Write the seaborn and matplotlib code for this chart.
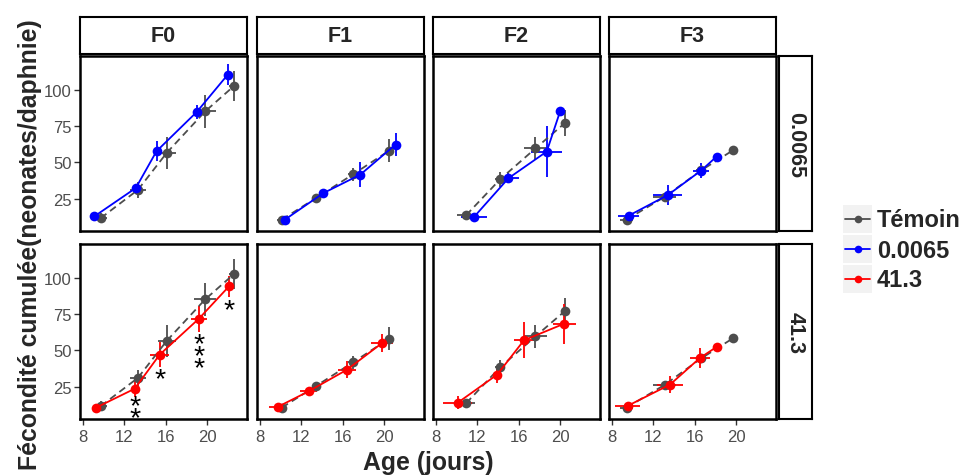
import numpy as np
import pandas as pd
import seaborn as sns
from matplotlib import pyplot as plt
from matplotlib.lines import Line2D
from matplotlib.patches import Rectangle

# Fecondite cumulee par generation (F0..F3), moyenne + erreurs
generations = ['F0', 'F1', 'F2', 'F3']
concentrations = ['0.0065', '41.3']
groups = ['Témoin', '0.0065', '41.3']

age_temoin = [[9.7, 13.3, 16.1, 19.8, 22.6], [10.1, 13.4, 17.0, 20.5],
              [10.9, 14.2, 17.6, 20.5], [9.4, 13.1, 16.6, 19.7]]
fec_temoin = [[11.8, 31.2, 56.7, 85.0, 102.5], [10.8, 25.6, 41.9, 58.2],
              [13.8, 38.5, 59.6, 77.3], [10.8, 26.5, 44.5, 58.4]]
xerr_temoin = [[0.6, 0.8, 0.9, 1.1, 0.5], [0.5, 0.4, 0.5, 0.4],
               [0.9, 0.5, 1.1, 0.4], [0.6, 1.1, 0.5, 0.4]]
yerr_temoin = [[3.5, 5.7, 11, 11.5, 10.5], [1.5, 2.5, 4.5, 7.6],
               [1.5, 5, 8, 9], [2, 2.5, 3, 2.5]]

age_low = [[9.1, 13.1, 15.1, 19.0, 22.0], [10.4, 14.1, 17.7, 21.1],
           [11.7, 15.0, 18.7, 20.0], [9.6, 13.4, 16.6, 18.1]]
fec_low = [[13.1, 32.5, 57.7, 84.7, 110.3], [10.8, 28.9, 41.7, 62.3],
           [12.9, 39.2, 57.5, 85.2], [13.5, 27.7, 44.4, 54.0]]
xerr_low = [[0.2, 0.3, 0.3, 0.3, 0.2], [0.3, 0.3, 0.3, 0.3],
            [1.25, 1.0, 1.5, 0.2], [1.0, 1.4, 0.8, 0.2]]
yerr_low = [[1.5, 2.5, 7, 5, 7.5], [1.5, 2, 8.6, 8],
            [1, 3.5, 17.5, 1.5], [2, 7, 5, 1]]

age_high = [[9.2, 13.0, 15.4, 19.2, 22.1], [9.7, 12.7, 16.4, 19.8],
            [10.1, 13.9, 16.5, 20.4], [9.5, 13.6, 16.5, 18.1]]
fec_high = [[10.6, 23.8, 47.1, 71.8, 93.9], [11.3, 22.0, 36.8, 55.1],
            [14.2, 33.4, 57.0, 68.4], [12.0, 26.6, 44.9, 52.4]]
xerr_high = [[0.3, 0.3, 0.9, 0.8, 0.3], [0.85, 0.8, 0.9, 1.06],
             [1.4, 0.3, 1.0, 1.1], [1.2, 1.3, 1.0, 0.2]]
yerr_high = [[1.5, 5.7, 8.6, 9, 7], [1.5, 3, 6, 6],
             [4.5, 6, 12.5, 13.7], [1, 6, 7, 1]]

# significativite F0 / 41.3 (y = etoile la plus basse)
star_x = [13.0, 15.4, 19.2, 22.1]
star_y = [10.0, 36.8, 44.2, 84.3]
star_txt = ['*\n*', '*', '*\n*\n*', '*']

x_ticks = [8, 12, 16, 20]
y_ticks = [25, 50, 75, 100]

colors = {'Témoin': '#4D4D4D', '0.0065': '#0000FF', '41.3': '#FF0000'}

rows = []
for g, gen in enumerate(generations):
    for c, conc in enumerate(concentrations):
        series = [('Témoin', age_temoin, fec_temoin, xerr_temoin, yerr_temoin)]
        if conc == '0.0065':
            series.append(('0.0065', age_low, fec_low, xerr_low, yerr_low))
        else:
            series.append(('41.3', age_high, fec_high, xerr_high, yerr_high))
        for name, a, f, xe, ye in series:
            for i in range(len(a[g])):
                rows.append({'gen': gen, 'conc': conc, 'groupe': name,
                             'age': a[g][i], 'fec': f[g][i],
                             'xerr': xe[g][i], 'yerr': ye[g][i]})
df = pd.DataFrame(rows)

sns.set_style('white')
plt.rcParams['font.family'] = ['Liberation Sans', 'DejaVu Sans']

W, H = 978, 477
fig = plt.figure(figsize=(W / 100, H / 100), dpi=100)

col_left = [80, 257, 433, 609]
col_w = 167
row_top = [57, 245]
row_h = 175


def fig_rect(x0, y0, w, h):
    return [x0 / W, 1 - (y0 + h) / H, w / W, h / H]


for c, conc in enumerate(concentrations):
    for g, gen in enumerate(generations):
        ax = fig.add_axes(fig_rect(col_left[g], row_top[c], col_w, row_h))
        sub = df[(df.gen == gen) & (df.conc == conc)]
        for name in ['Témoin', conc]:
            d = sub[sub.groupe == name]
            ax.errorbar(d.age, d.fec, xerr=d.xerr, yerr=d.yerr, fmt='none',
                        ecolor=colors[name], elinewidth=1.3, capsize=0, zorder=2)
        sns.lineplot(data=sub, x='age', y='fec', hue='groupe', style='groupe',
                     palette=colors, hue_order=['Témoin', conc],
                     dashes={'Témoin': (4, 2.5), conc: ''},
                     markers={'Témoin': 'o', conc: 'o'}, markersize=7,
                     markeredgewidth=0, linewidth=1.3, estimator=None,
                     sort=False, legend=False, ax=ax, zorder=3)
        if gen == 'F0' and conc == '41.3':
            for sx, sy, st in zip(star_x, star_y, star_txt):
                ax.annotate(st, (sx, sy), xytext=(0, -11.8),
                            textcoords='offset points', ha='center',
                            va='baseline', fontsize=20.5, linespacing=0.3,
                            color='black', zorder=4)
        ax.set_xlim(7.7, 23.85)
        ax.set_ylim(3, 123)
        ax.set_xticks(x_ticks)
        ax.set_yticks(y_ticks)
        ax.set_xlabel('')
        ax.set_ylabel('')
        ax.tick_params(axis='both', which='both', length=4, width=1,
                       color='#333333', labelcolor='#4D4D4D', labelsize=12,
                       direction='out', pad=2)
        ax.tick_params(axis='x', pad=3.5)
        ax.tick_params(bottom=(c == 1), left=(g == 0),
                       labelbottom=(c == 1), labelleft=(g == 0))
        for sp in ax.spines.values():
            sp.set_color('black')
            sp.set_linewidth(1.8)
        ax.grid(False)

        # bandeaux du haut
        if c == 0:
            sax = fig.add_axes(fig_rect(col_left[g], 18, col_w, 37))
            sax.set_xticks([])
            sax.set_yticks([])
            for sp in sax.spines.values():
                sp.set_linewidth(1.5)
                sp.set_color('black')
            sax.text(0.5, 0.5, gen, ha='center', va='center',
                     fontsize=15.5, fontweight='bold', transform=sax.transAxes)
    rax = fig.add_axes(fig_rect(779, row_top[c], 33, row_h))
    rax.set_xticks([])
    rax.set_yticks([])
    for sp in rax.spines.values():
        sp.set_linewidth(1.5)
        sp.set_color('black')
    rax.text(0.5, 0.5, conc, ha='center', va='center', rotation=-90,
             fontsize=15.5, fontweight='bold', transform=rax.transAxes)

fig.text(428 / W, 1 - 463 / H, 'Age (jours)', ha='center', va='center',
         fontsize=17.8, fontweight='bold')
fig.text(30 / W, 1 - 245 / H, 'Fécondité cumulée(neonates/daphnie)',
         ha='center', va='center', rotation=90, fontsize=17.8,
         fontweight='bold')

# legende
lax = fig.add_axes([0, 0, 1, 1], facecolor='none')
lax.set_xlim(0, W)
lax.set_ylim(H, 0)
lax.axis('off')
for i, name in enumerate(groups):
    yc = 220 + i * 30
    lax.add_patch(Rectangle((843, yc - 14), 29, 28, facecolor='#F2F2F2',
                            edgecolor='none'))
    lax.add_line(Line2D([845, 870], [yc, yc], color=colors[name], lw=1.3))
    lax.plot([857.5], [yc], 'o', color=colors[name], markersize=5.5,
             markeredgewidth=0)
    lax.text(877, yc + 1, name, ha='left', va='center', fontsize=17,
             fontweight='bold')

fig.savefig('out.png', dpi=100)
